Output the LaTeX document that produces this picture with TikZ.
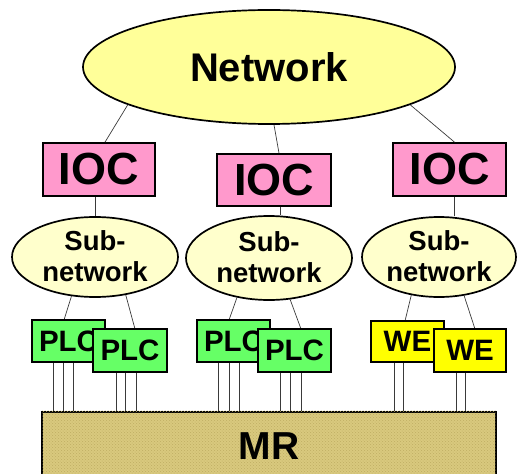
\documentclass[tikz,border=0pt]{standalone}
\usepackage{fontspec}
\setmainfont{Liberation Sans}
\usetikzlibrary{shapes.geometric,patterns}
\definecolor{netyellow}{HTML}{FFFF99}
\definecolor{subyellow}{HTML}{FFFFCC}
\definecolor{iocpink}{HTML}{FF99CC}
\definecolor{plcgreen}{HTML}{66FF66}
\definecolor{weyellow}{HTML}{FFFF00}
\definecolor{mrtan}{HTML}{D9C97E}
\definecolor{mrdark}{HTML}{BFAE62}
\definecolor{wire}{HTML}{3A3A3A}
\tikzset{
  shapeline/.style={draw=black, line width=1.7pt},
  cloud/.style={shapeline, ellipse, inner sep=0pt},
  netcloud/.style={cloud, fill=netyellow, font=\bfseries\fontsize{40}{44}\selectfont},
  subcloud/.style={cloud, fill=subyellow, align=center,
    font=\bfseries\fontsize{27.5}{31}\selectfont},
  iocbox/.style={shapeline, rectangle, fill=iocpink, inner sep=0pt,
    font=\bfseries\fontsize{45}{48}\selectfont},
  devbox/.style={shapeline, rectangle, inner sep=0pt,
    minimum height=42pt, minimum width=73pt,
    font=\bfseries\fontsize{29.5}{32}\selectfont},
  plcbox/.style={devbox, fill=plcgreen},
  webox/.style={devbox, fill=weyellow},
  link/.style={draw=wire, line width=0.7pt},
}
\begin{document}
\begin{tikzpicture}[x=1pt, y=-1pt]
\useasboundingbox (0,0) rectangle (518,473);
\clip (0,0) rectangle (518,473);

% top level network
\node[netcloud, minimum width=372pt, minimum height=114pt] (net) at (269,67) {Network};

% IOCs
\node[iocbox, minimum width=112pt, minimum height=53pt] (ioc1) at (99,169.5) {IOC};
\node[iocbox, minimum width=114pt, minimum height=52pt] (ioc2) at (274,180) {IOC};
\node[iocbox, minimum width=113pt, minimum height=53pt] (ioc3) at (449.5,169.5) {IOC};

% sub-networks
\node[subcloud, minimum width=166pt, minimum height=80pt, text depth=2pt] (sub1) at (95,257) {Sub-\\network};
\node[subcloud, minimum width=166pt, minimum height=84pt, text depth=2pt] (sub2) at (269,258) {Sub-\\network};
\node[subcloud, minimum width=154pt, minimum height=80pt, text depth=2pt] (sub3) at (439,257) {Sub-\\network};

% links network -> IOC -> sub-network
\draw[link] (net.195) -- ([xshift=6pt]ioc1.north);
\draw[link] (net.south -| ioc2.north) -- ([xshift=5pt]ioc2.north);
\draw[link] (net.345) -- ([xshift=5pt]ioc3.north);
\draw[link] (ioc1.south -| sub1.north) -- (sub1.north);
\draw[link] ([xshift=6pt]ioc2.south) -- ([xshift=6pt]ioc2.south |- sub2.north);
\draw[link] ([xshift=5pt]ioc3.south) -- ([xshift=5pt]ioc3.south |- sub3.north);

% memory rack
\node[shapeline, rectangle, fill=mrtan, inner sep=0pt, minimum width=454pt,
  minimum height=66pt] (mr) at (269,445) {};
\fill[pattern=crosshatch dots, pattern color=mrdark]
  ([shift={(1pt,-1pt)}]mr.south west) rectangle ([shift={(-1pt,1pt)}]mr.north east);
\node[font=\bfseries\fontsize{39}{44}\selectfont] (mrtext) at ([yshift=-1pt]mr.center) {MR};

% links sub-network -> devices
\coordinate (p1a) at (64,320);
\coordinate (p1b) at (135,329);
\coordinate (p2a) at (229,320);
\coordinate (p2b) at (301,329);
\coordinate (w1)  at (405,321);
\coordinate (w2)  at (475,329);
\draw[link] (sub1.239) -- (p1a);
\draw[link] (sub1.309) -- (p1b);
\draw[link] (sub2.231) -- (p2a);
\draw[link] (sub2.297) -- (p2b);
\draw[link] (sub3.234) -- (w1);
\draw[link] (sub3.303) -- (w2);

% devices (second of each pair overlaps the first)
\node[plcbox] (plc1a) at (68.5,341) {PLC};
\node[plcbox, minimum width=74pt, minimum height=43pt] (plc1b) at (130,350.5) {PLC};
\node[plcbox] (plc2a) at (233.5,341) {PLC};
\node[plcbox, minimum height=43pt] (plc2b) at (294.5,350.5) {PLC};
\node[webox, minimum height=41pt] (we1) at (407.5,341.5) {WE};
\node[webox, minimum width=72pt, minimum height=43pt] (we2) at (470,350.5) {WE};

% wires from devices down to MR
\foreach \d/\dx in {plc1a/-15.5, plc1a/-5.5, plc1a/4.5,
                   plc1b/-14, plc1b/-5, plc1b/6,
                   plc2a/-15.5, plc2a/-4.5, plc2a/5.5,
                   plc2b/-14.5, plc2b/-4.5, plc2b/6.5,
                   we1/-13.5, we1/-4.5,
                   we2/-14, we2/-5}
  \draw[link] ([xshift=\dx pt]\d.south) -- ([xshift=\dx pt]\d.south |- mr.north);
\end{tikzpicture}
\end{document}
